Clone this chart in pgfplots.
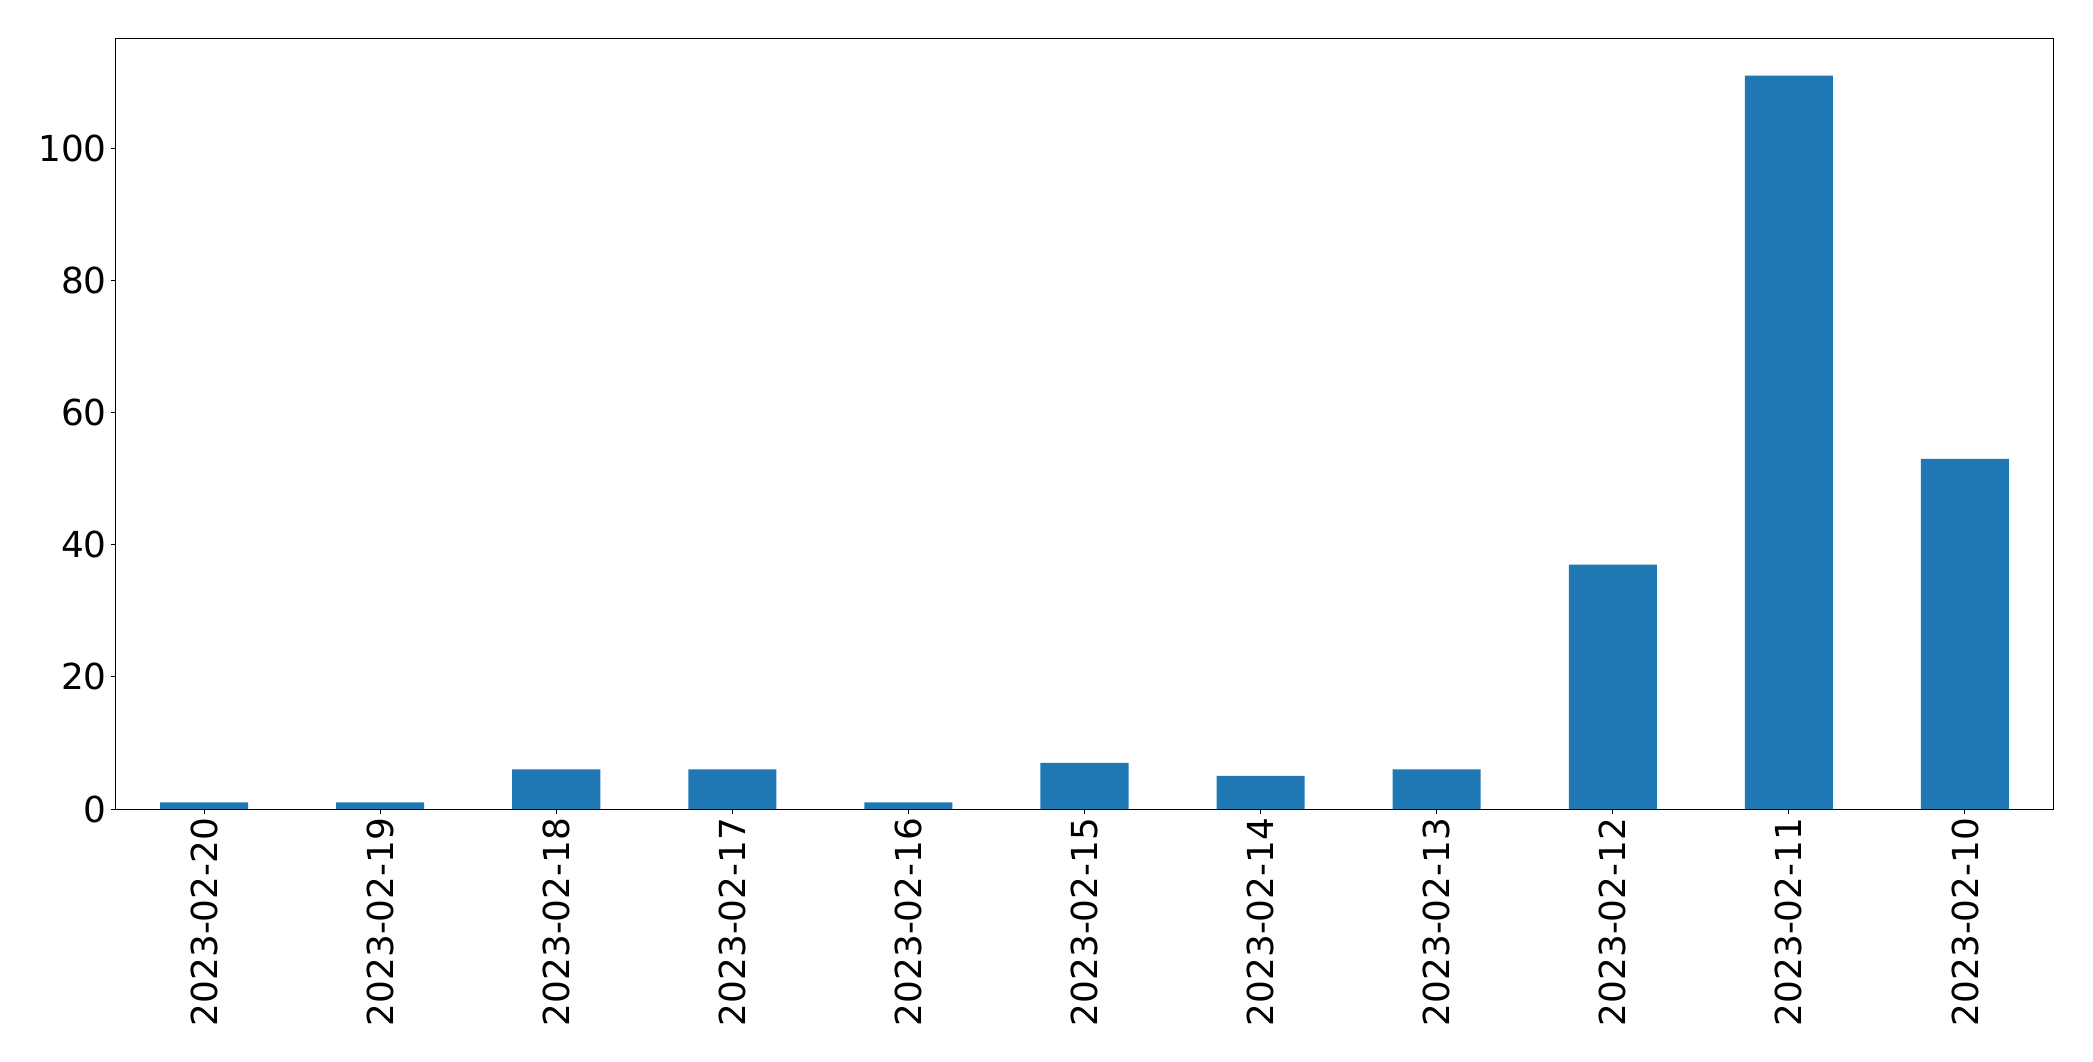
\documentclass[border=0pt]{standalone}
\usepackage{pgfplots}
\pgfplotsset{compat=1.18}
\usepackage{fontspec}
\setmainfont{DejaVu Sans}
\definecolor{mplblue}{HTML}{1F77B4}
\begin{document}
\begin{tikzpicture}
\begin{axis}[
  name=ax,
  at={(0,0)}, anchor=south west,
  scale only axis,
  width=968.5pt, height=385pt,
  xmin=-0.5, xmax=10.5,
  ymin=0, ymax=116.55,
  xtick=data,
  xticklabels={2023-02-20,2023-02-19,2023-02-18,2023-02-17,2023-02-16,2023-02-15,2023-02-14,2023-02-13,2023-02-12,2023-02-11,2023-02-10},
  ytick={0,20,40,60,80,100},
  tick align=outside,
  major tick length=2.5pt,
  tick style={black, line width=0.5pt},
  axis line style={line width=0.5pt},
  xtick pos=bottom, ytick pos=left,
  /pgf/number format/assume math mode=true,
  tick label style={font=\fontsize{17.9}{21}\selectfont},
  xticklabel style={rotate=90, anchor=east, inner sep=0pt, xshift=-1.8pt},
  yticklabel style={inner sep=0pt, xshift=-2pt},
]
\addplot[ybar, bar width=0.5, bar shift=0pt, fill=mplblue, draw=none] coordinates {(0,1) (1,1) (2,6) (3,6) (4,1) (5,7) (6,5) (7,6) (8,37) (9,111) (10,53)};
\end{axis}
\path[use as bounding box] ([xshift=-58pt,yshift=-126pt]ax.south west) rectangle ([xshift=20pt,yshift=19.5pt]ax.north east);
\end{tikzpicture}
\end{document}
